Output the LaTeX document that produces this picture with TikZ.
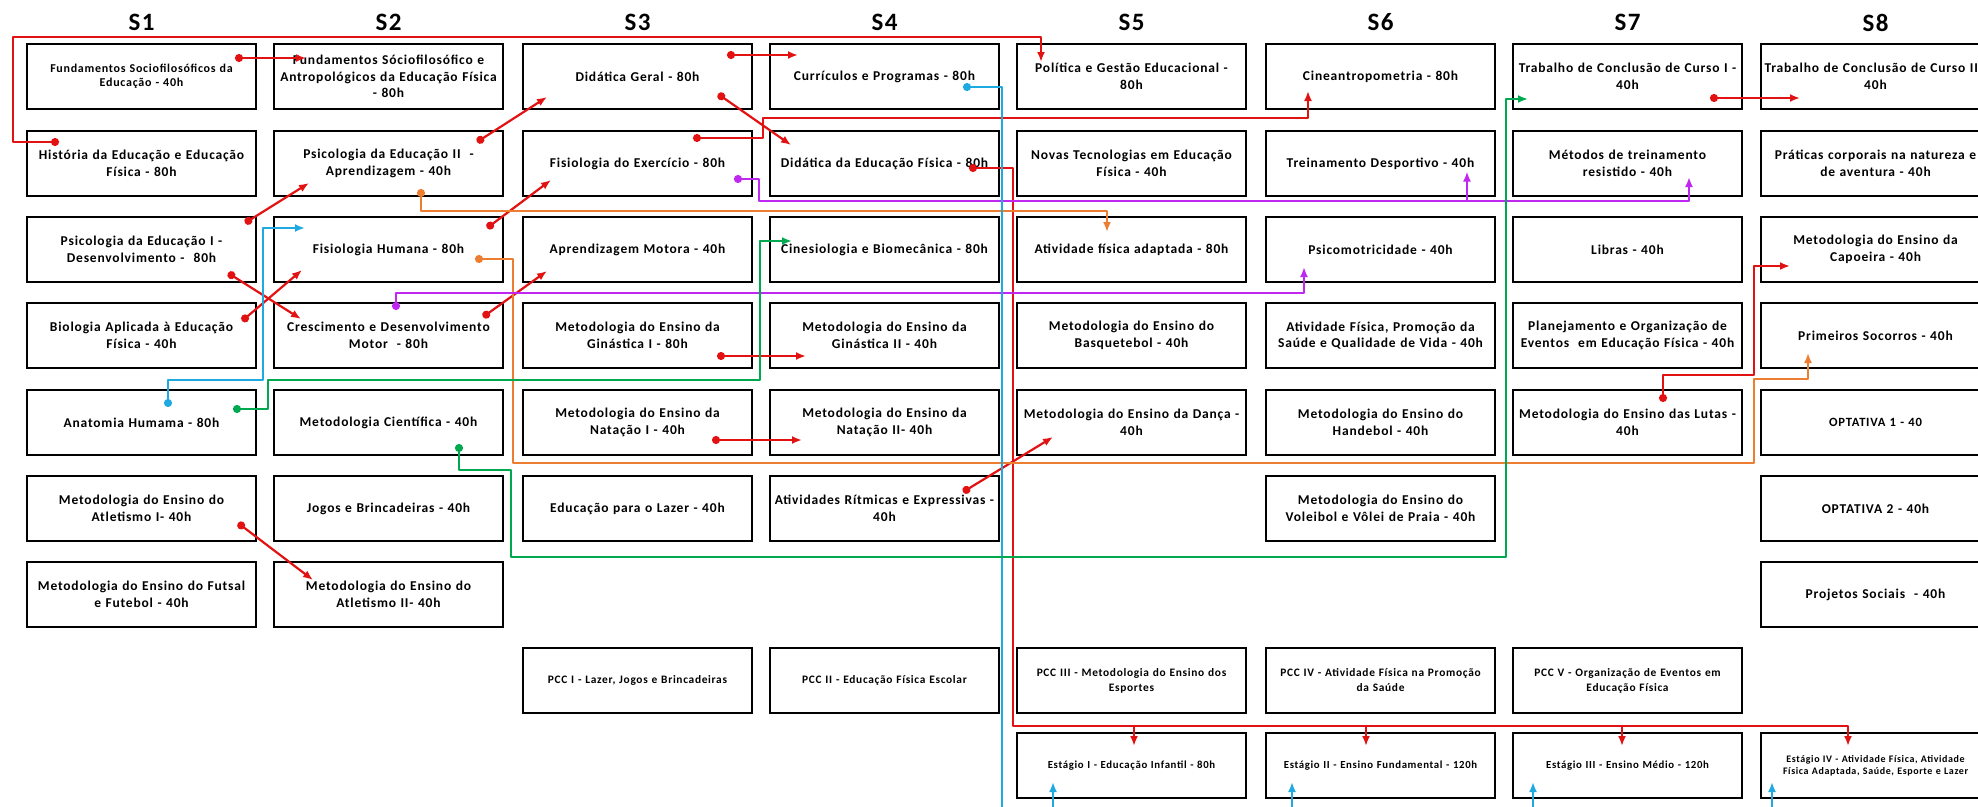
\documentclass[tikz,border=0pt]{standalone}
\usepackage{fontspec}
\setmainfont{Carlito}[LetterSpace=6]
\usetikzlibrary{arrows.meta,calc}

\begin{document}
\begin{tikzpicture}[x=1pt,y=1pt,
  box/.style={draw,line width=1.6pt,fill=white,minimum width=229pt,minimum height=65pt,
    text width=225pt,inner sep=2pt,align=center,font=\bfseries\fontsize{13.5}{16.5}\selectfont},
  small/.style={box,font=\bfseries\fontsize{12}{14}\selectfont},
  pcc/.style={box,font=\bfseries\fontsize{11.4}{15}\selectfont},
  est/.style={box,font=\bfseries\fontsize{10.8}{12}\selectfont},
  head/.style={font=\bfseries\fontsize{25}{28}\selectfont},
  link/.style={line width=2.2pt,line join=round,{Circle[length=8pt]}-{Latex[length=10pt,width=8pt]}},
  stub/.style={line width=2.2pt,-{Latex[length=10pt,width=8pt]}}]
\definecolor{lnred}{RGB}{226,18,18} \definecolor{lnorange}{RGB}{237,125,49}
\definecolor{lnpurple}{RGB}{190,40,240} \definecolor{lnblue}{RGB}{30,170,225}
\definecolor{lngreen}{RGB}{0,168,80}
\clip (0,0) rectangle (1978,-806);
\foreach \s/\x in {1/141.5,2/388.5,3/637.5,4/884.5,5/1131.5,6/1380.5,7/1627.5,8/1875.5}
  \node[head] (h\s) at (\x,-22.5) {S\s};
% S1
\node[small] (s1a) at (141.5,-76.5) {Fundamentos Sociofilosóficos da\\Educação - 40h};
\node[box] (s1b) at (141.5,-163.5) {História da Educação e Educação\\Física - 80h};
\node[box] (s1c) at (141.5,-249.5) {Psicologia da Educação I -\\Desenvolvimento -~~80h};
\node[box] (s1d) at (141.5,-335.5) {Biologia Aplicada à Educação\\Física - 40h};
\node[box] (s1e) at (141.5,-422.5) {Anatomia Humama - 80h};
\node[box] (s1f) at (141.5,-508.5) {Metodologia do Ensino do\\Atletismo I- 40h};
\node[box] (s1g) at (141.5,-594.5) {Metodologia do Ensino do Futsal\\e Futebol - 40h};
% S2
\node[box] (s2a) at (388.5,-76.5) {Fundamentos Sóciofilosófico e\\Antropológicos da Educação Física\\- 80h};
\node[box] (s2b) at (388.5,-163.5) {Psicologia da Educação II~~-\\Aprendizagem - 40h};
\node[box] (s2c) at (388.5,-249.5) {Fisiologia Humana - 80h};
\node[box] (s2d) at (388.5,-335.5) {Crescimento e Desenvolvimento\\Motor~~- 80h};
\node[box] (s2e) at (388.5,-422.5) {Metodologia Científica - 40h};
\node[box] (s2f) at (388.5,-508.5) {Jogos e Brincadeiras - 40h};
\node[box] (s2g) at (388.5,-594.5) {Metodologia do Ensino do\\Atletismo II- 40h};
% S3
\node[box] (s3a) at (637.5,-76.5) {Didática Geral - 80h};
\node[box] (s3b) at (637.5,-163.5) {Fisiologia do Exercício - 80h};
\node[box] (s3c) at (637.5,-249.5) {Aprendizagem Motora - 40h};
\node[box] (s3d) at (637.5,-335.5) {Metodologia do Ensino da\\Ginástica I - 80h};
\node[box] (s3e) at (637.5,-422.5) {Metodologia do Ensino da\\Natação I - 40h};
\node[box] (s3f) at (637.5,-508.5) {Educação para o Lazer - 40h};
\node[pcc] (p1) at (637.5,-680.5) {PCC I - Lazer, Jogos e Brincadeiras};
% S4
\node[box] (s4a) at (884.5,-76.5) {Currículos e Programas - 80h};
\node[box] (s4b) at (884.5,-163.5) {Didática da Educação Física - 80h};
\node[box] (s4c) at (884.5,-249.5) {Cinesiologia e Biomecânica - 80h};
\node[box] (s4d) at (884.5,-335.5) {Metodologia do Ensino da\\Ginástica II - 40h};
\node[box] (s4e) at (884.5,-422.5) {Metodologia do Ensino da\\Natação II- 40h};
\node[box] (s4f) at (884.5,-508.5) {Atividades Rítmicas e Expressivas -\\40h};
\node[pcc] (p2) at (884.5,-680.5) {PCC II - Educação Física Escolar};
% S5
\node[box] (s5a) at (1131.5,-76.5) {Política e Gestão Educacional -\\80h};
\node[box] (s5b) at (1131.5,-163.5) {Novas Tecnologias em Educação\\Física - 40h};
\node[box] (s5c) at (1131.5,-249.5) {Atividade física adaptada - 80h};
\node[box] (s5d) at (1131.5,-335.5) {Metodologia do Ensino do\\Basquetebol - 40h};
\node[box] (s5e) at (1131.5,-422.5) {Metodologia do Ensino da Dança -\\40h};
\node[pcc] (p3) at (1131.5,-680.5) {PCC III - Metodologia do Ensino dos\\Esportes};
\node[est] (e1) at (1131.5,-765.5) {Estágio I - Educação Infantil - 80h};
% S6
\node[box] (s6a) at (1380.5,-76.5) {Cineantropometria - 80h};
\node[box] (s6b) at (1380.5,-163.5) {Treinamento Desportivo - 40h};
\node[box] (s6c) at (1380.5,-249.5) {Psicomotricidade - 40h};
\node[box] (s6d) at (1380.5,-335.5) {Atividade Física, Promoção da\\Saúde e Qualidade de Vida - 40h};
\node[box] (s6e) at (1380.5,-422.5) {Metodologia do Ensino do\\Handebol - 40h};
\node[box] (s6f) at (1380.5,-508.5) {Metodologia do Ensino do\\Voleibol e Vôlei de Praia - 40h};
\node[pcc] (p4) at (1380.5,-680.5) {PCC IV - Atividade Física na Promoção\\da Saúde};
\node[est] (e2) at (1380.5,-765.5) {Estágio II - Ensino Fundamental - 120h};
% S7
\node[box] (s7a) at (1627.5,-76.5) {Trabalho de Conclusão de Curso I -\\40h};
\node[box] (s7b) at (1627.5,-163.5) {Métodos de treinamento\\resistido - 40h};
\node[box] (s7c) at (1627.5,-249.5) {Libras - 40h};
\node[box] (s7d) at (1627.5,-335.5) {Planejamento e Organização de\\Eventos~~em Educação Física - 40h};
\node[box] (s7e) at (1627.5,-422.5) {Metodologia do Ensino das Lutas -\\40h};
\node[pcc] (p5) at (1627.5,-680.5) {PCC V - Organização de Eventos em\\Educação Física};
\node[est] (e3) at (1627.5,-765.5) {Estágio III - Ensino Médio - 120h};
% S8
\node[box] (s8a) at (1875.5,-76.5) {Trabalho de Conclusão de Curso II -\\40h};
\node[box] (s8b) at (1875.5,-163.5) {Práticas corporais na natureza e\\de aventura - 40h};
\node[box] (s8c) at (1875.5,-249.5) {Metodologia do Ensino da\\Capoeira - 40h};
\node[box] (s8d) at (1875.5,-335.5) {Primeiros Socorros - 40h};
\node[box,font=\bfseries\fontsize{12.6}{14}\selectfont] (s8e) at (1875.5,-422.5) {OPTATIVA 1 - 40};
\node[box] (s8f) at (1875.5,-508.5) {OPTATIVA 2 - 40h};
\node[box] (s8g) at (1875.5,-594.5) {Projetos Sociais~~- 40h};
\node[box,font=\bfseries\fontsize{10}{11.7}\selectfont] (e4) at (1875.5,-765.5)
  {Estágio IV - Atividade Física, Atividade\\Física Adaptada, Saúde, Esporte e Lazer};
% red prerequisites
\draw[link,lnred] ($(s1a)+(93.5,18.5)$) -- ($(s2a)+(-82.5,18.5)$);
\draw[link,lnred] ($(s1b)+(-82.5,21.5)$) -| (13,-37) -| ($(s5a)+(-90.5,14.5)$);
\draw[link,lnred] ($(s1c)+(103.5,26.5)$) -- ($(s2b)+(-79.5,-19.5)$);
\draw[link,lnred] ($(s1c)+(86.5,-23.5)$) -- ($(s2d)+(-87.5,16.5)$);
\draw[link,lnred] ($(s1d)+(100.5,14.5)$) -- ($(s2c)+(-86.5,-20.5)$);
\draw[link,lnred] ($(s2b)+(88.5,21.5)$) -- ($(s3a)+(-90.5,-20.5)$);
\draw[link,lnred] ($(s2c)+(98.5,21.5)$) -- ($(s3b)+(-86.5,-16.5)$);
\draw[link,lnred] ($(s2d)+(94.5,18.5)$) -- ($(s3c)+(-90.5,-21.5)$);
\draw[link,lnred] ($(s3a)+(89.5,21.5)$) -- ($(s4a)+(-86.5,21.5)$);
\draw[link,lnred] ($(s3a)+(80.5,-17.5)$) -- ($(s4b)+(-93.5,18.5)$);
\draw[link,lnred] ($(s3b)+(55.5,25.5)$) -| (763,-118) -| ($(s6a)+(-72.5,-14.5)$);
\draw[link,lnred] ($(s3d)+(79.5,-20.5)$) -- ($(s4d)+(-78.5,-20.5)$);
\draw[link,lnred] ($(s3e)+(74.5,-17.5)$) -- ($(s4e)+(-82.5,-17.5)$);
\draw[link,lnred] ($(s4f)+(78.5,16.5)$) -- ($(s5e)+(-78.5,-14.5)$);
\draw[link,lnred] ($(s1f)+(96.5,-14.5)$) -- ($(s2g)+(-75.5,14.5)$);
\draw[link,lnred] ($(s7a)+(82.5,-21.5)$) -- ($(s8a)+(-75.5,-21.5)$);
\draw[link,lnred] ($(s7e)+(35.5,20.5)$) |- (1754,-375) |- ($(s8c)+(-85.5,-16.5)$);
\draw[link,lnred] ($(s4b)+(84.5,-4.5)$) -| (1013,-726) -| ($(e4)+(-27.5,19.5)$);
\foreach \e/\dx in {e1/2.5,e2/-14.5,e3/-5.5}
  \draw[stub,lnred] ($(\e)+(\dx,39.5)$) -- ($(\e)+(\dx,19.5)$);
% orange
\draw[link,lnorange] ($(s2b)+(32.5,-25.5)$) |- (1107,-211) -- ($(s5c)+(-24.5,17.5)$);
\draw[link,lnorange] ($(s2c)+(86.5,-9.5)$) -| (513,-463) -| (1754,-379) -| ($(s8d)+(-67.5,-17.5)$);
% purple
\draw[link,lnpurple] ($(s3b)+(96.5,-15.5)$) -| (759,-201) -| ($(s7b)+(61.5,-13.5)$);
\draw[stub,lnpurple] ($(s6b)+(86.5,-37.5)$) -- ($(s6b)+(86.5,-8)$);
\draw[link,lnpurple] ($(s2d)+(7.5,25.5)$) |- (1304,-293) -- ($(s6c)+(-76.5,-17.5)$);
% blue
\draw[link,lnblue] ($(s1e)+(26.5,15.5)$) |- (263,-380) |- ($(s2c)+(-83.5,21.5)$);
\draw[link,lnblue] ($(s4a)+(78.5,-10.5)$) -| (1002,-816) -| ($(e4)+(-103.5,-16.5)$);
\foreach \e/\dx in {e1/-78.5,e2/-88.5,e3/-94.5}
  \draw[stub,lnblue] ($(\e)+(\dx,-50.5)$) -- ($(\e)+(\dx,-16.5)$);
% green
\draw[link,lngreen] ($(s1e)+(91.5,13.5)$) -| (268,-380) -| (760,-241) -- ($(s4c)+(-92.5,8.5)$);
\draw[link,lngreen] ($(s2e)+(70.5,-21.5)$) |- (511,-470) |- (1506,-557) |- ($(s7a)+(-99.5,-22.5)$);
\end{tikzpicture}
\end{document}
